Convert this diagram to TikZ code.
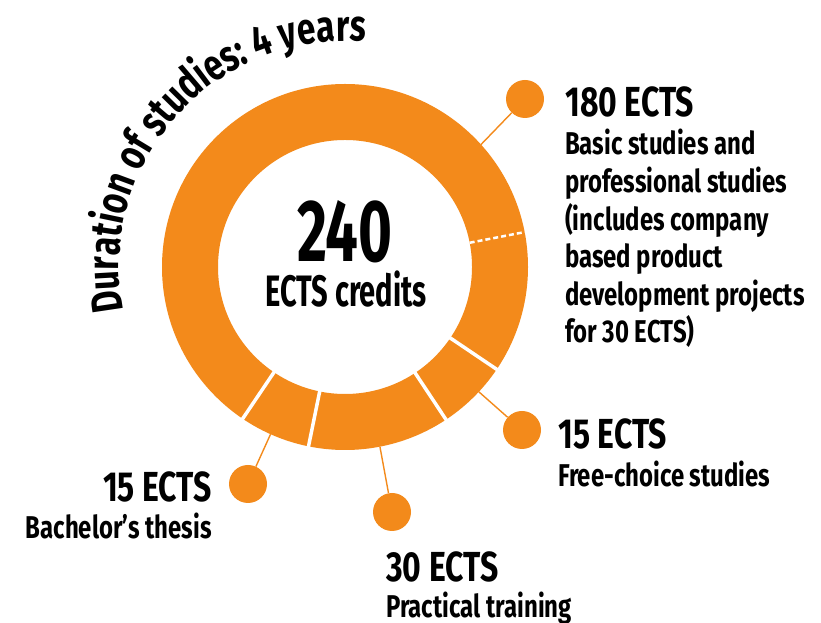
\documentclass[tikz,border=0pt]{standalone}
\usepackage{fontspec}
\setmainfont{Fira Sans}[FakeStretch=0.76]
\newfontfamily\totalfont{Fira Sans}[FakeStretch=0.66]
\usetikzlibrary{calc,decorations.text}
\definecolor{ectsorange}{RGB}{243,138,27}
\tikzset{
	leader/.style={ectsorange, line width=1.4pt},
	dot/.style={circle, fill=ectsorange, minimum size=38pt, inner sep=0pt},
	gap/.style={white, line width=3.5pt},
	head/.style={font=\fontsize{42}{42}\selectfont\bfseries, inner sep=0pt},
	body/.style={font=\fontsize{31.5}{37.6}\selectfont\bfseries, inner sep=0pt, align=left},
}

\begin{document}
\begin{tikzpicture}[x=1pt,y=1pt]
		\pgfmathsetmacro{\outerradius}{183}
		\pgfmathsetmacro{\innerradius}{127}
		\pgfmathsetmacro{\titleradius}{226}
		
		\useasboundingbox (0,0) rectangle (821,623);
		\coordinate (centre) at (345,356);
		
		\fill[ectsorange, even odd rule] (centre) circle (\outerradius) (centre) circle (\innerradius);
		\foreach \cut in {-34, -56.5, -101.5, -124}
		{
			\draw[gap] ($(centre)+(\cut:{\innerradius-3})$) -- ($(centre)+(\cut:{\outerradius+3})$);
		}
		\draw[gap, line width=2.5pt, dash pattern=on 5pt off 3pt] ($(centre)+(11:\innerradius)$) -- ($(centre)+(11:\outerradius)$);
		
		\node[font=\totalfont\fontsize{88}{88}\selectfont\bfseries, inner sep=0pt, anchor=base] (total) at (345,361) {240};
		\node[font=\totalfont\fontsize{44}{44}\selectfont\bfseries, inner sep=0pt, anchor=base] (totalunit) at (346,316) {ECTS credits};
		
		\path[decorate, decoration={text along path, text align=center,
			text={|\fontsize{44}{44}\selectfont\bfseries|Duration of studies: 4 years}}]
			($(centre)+(191:\titleradius)$) arc[start angle=191, end angle=85, radius=\titleradius];
		
		\coordinate (basicring) at ($(centre)+(42:\outerradius)$);
		\coordinate (freering) at ($(centre)+(-43:\outerradius)$);
		\coordinate (practicalring) at ($(centre)+(-79:\outerradius)$);
		\coordinate (thesisring) at ($(centre)+(-114:\outerradius)$);
		\node[dot] (basicdot) at (525,524) {};
		\node[dot] (freedot) at (522,193) {};
		\node[dot] (practicaldot) at (392,111) {};
		\node[dot] (thesisdot) at (248,139) {};
		\draw[leader] (basicring) -- (basicdot);
		\draw[leader] (freering) -- (freedot);
		\draw[leader] (practicalring) -- (practicaldot);
		\draw[leader] (thesisring) -- (thesisdot);
		
		\node[head, anchor=base west] (basichead) at (565,506) {180 ECTS};
		\node[body, anchor=base west] (basictext) at (565,280) {Basic studies and\\professional studies\\(includes company\\based product\\development projects\\for 30 ECTS)};
		\node[head, anchor=base west] (freehead) at (558,174) {15 ECTS};
		\node[body, anchor=base west] (freetext) at (558,136) {Free-choice studies};
		\node[head, anchor=base east] (thesishead) at (212,121) {15 ECTS};
		\node[body, anchor=base east] (thesistext) at (212,84) {Bachelor’s thesis};
		\node[head, anchor=base west] (practicalhead) at (386,41) {30 ECTS};
		\node[body, anchor=base west] (practicaltext) at (386,5) {Practical training};
	\end{tikzpicture}
\end{document}
